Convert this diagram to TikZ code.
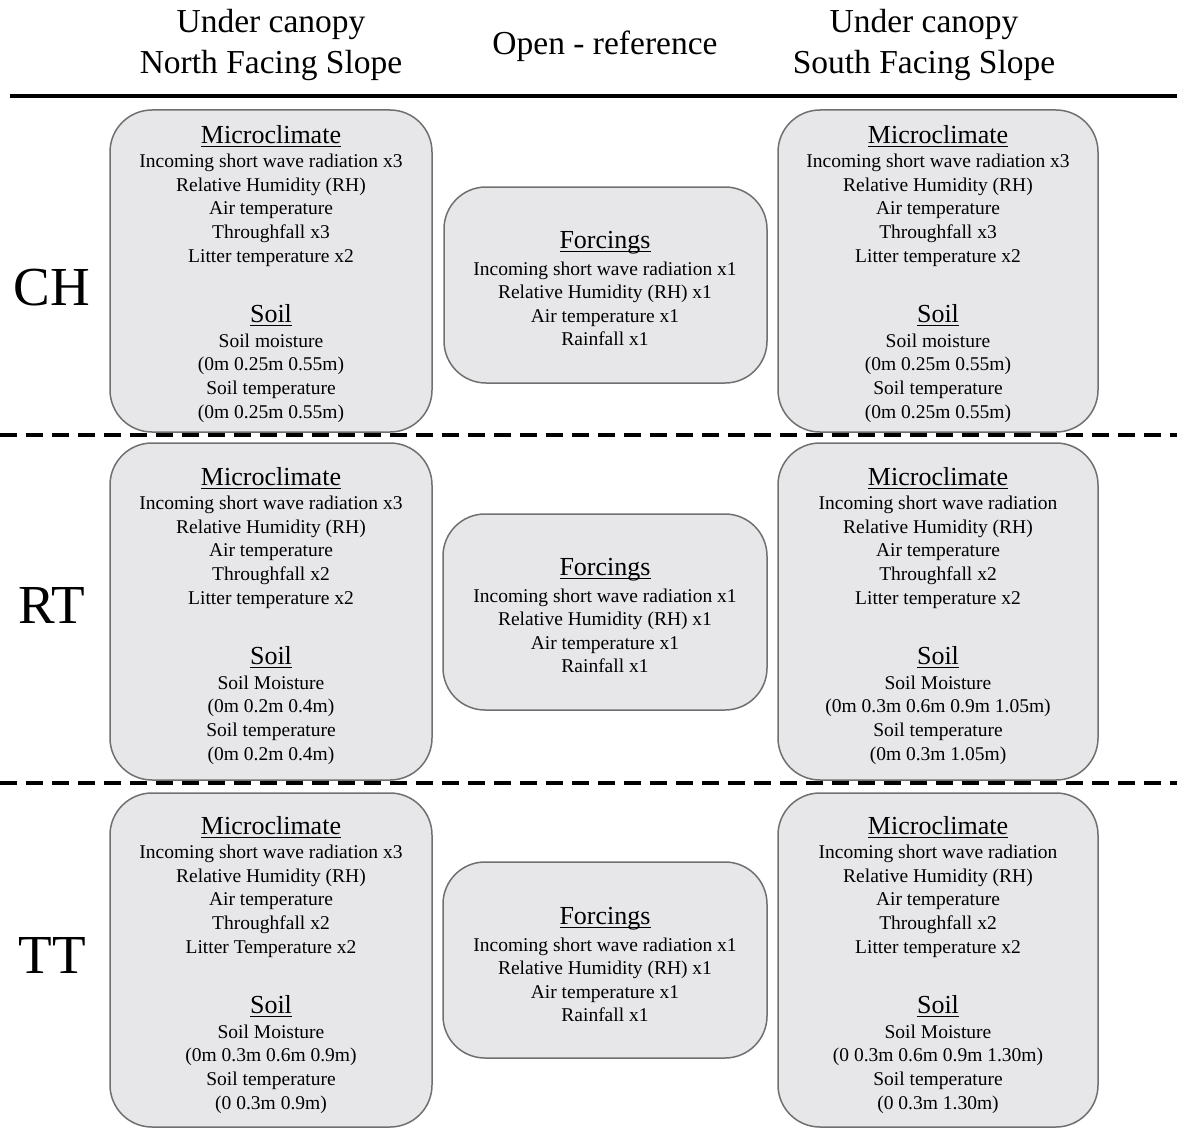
\documentclass[tikz,border=0pt]{standalone}
\usepackage{fontspec}
\setmainfont{Liberation Serif}

\definecolor{panelfill}{RGB}{231,230,232}
\definecolor{panelline}{RGB}{112,112,112}

% underlined sub-heading, rule kept close under the baseline
\newcommand{\ulhead}[1]{\setbox0\hbox{#1}\dp0=0pt\vtop{\copy0\kern3pt\hrule height 1.3pt}}

\tikzset{
  panel/.style={draw=panelline, fill=panelfill, line width=1.5pt, rounded corners=42pt},
  heading/.style={anchor=base, inner sep=0pt, font=\fontsize{26}{30}\selectfont},
  entry/.style={anchor=base, inner sep=0pt, font=\fontsize{19.5}{23.5}\selectfont},
  colhead/.style={anchor=base, inner sep=0pt, font=\fontsize{33.5}{40}\selectfont},
  rowhead/.style={anchor=base, inner sep=0pt, font=\fontsize{55}{60}\selectfont},
  rowrule/.style={line width=4pt, dash pattern=on 17pt off 9pt}
}

\begin{document}
\begin{tikzpicture}[x=1pt, y=-1pt]
\useasboundingbox (0,0) rectangle (1177,1129);

% Column headings and rules
\node[colhead] (nhead1) at (271,33) {Under canopy};
\node[colhead] (nhead2) at (271,74) {North Facing Slope};
\node[colhead] (ohead) at (605,55) {Open - reference};
\node[colhead] (shead1) at (924,33) {Under canopy};
\node[colhead] (shead2) at (924,74) {South Facing Slope};
\draw[line width=3.5pt] (10,96) -- (1177,96);
\draw[rowrule] (0,435) -- (1177,435);
\draw[rowrule] (0,783) -- (1177,783);

% Row labels
\node[rowhead] (ch) at (52,305) {CH};
\node[rowhead] (rt) at (52,623) {RT};
\node[rowhead] (tt) at (52,973) {TT};

% ---- CH ----
\draw[panel] (110,110) rectangle (432,432);
\node[heading] (chn-mc) at (271,143) {\ulhead{Microclimate}};
\foreach \txt [count=\i] in {Incoming short wave radiation x3, Relative Humidity (RH), Air temperature, Throughfall x3, Litter temperature x2}
  \node[entry] (chn-mc\i) at (271,143.8+23.7*\i) {\txt};
\node[heading] (chn-soil) at (271,322) {\ulhead{Soil}};
\foreach \txt [count=\i] in {Soil moisture, {(0m 0.25m 0.55m)}, Soil temperature, {(0m 0.25m 0.55m)}}
  \node[entry] (chn-soil\i) at (271,323.3+23.7*\i) {\txt};

\draw[panel] (444,187) rectangle (767,383);
\node[heading] (cho-fc) at (605,248) {\ulhead{Forcings}};
\foreach \txt [count=\i] in {Incoming short wave radiation x1, Relative Humidity (RH) x1, Air temperature x1, Rainfall x1}
  \node[entry] (cho-fc\i) at (605,251.5+23.5*\i) {\txt};

\draw[panel] (778,110) rectangle (1098,432);
\node[heading] (chs-mc) at (938,143) {\ulhead{Microclimate}};
\foreach \txt [count=\i] in {Incoming short wave radiation x3, Relative Humidity (RH), Air temperature, Throughfall x3, Litter temperature x2}
  \node[entry] (chs-mc\i) at (938,143.8+23.7*\i) {\txt};
\node[heading] (chs-soil) at (938,322) {\ulhead{Soil}};
\foreach \txt [count=\i] in {Soil moisture, {(0m 0.25m 0.55m)}, Soil temperature, {(0m 0.25m 0.55m)}}
  \node[entry] (chs-soil\i) at (938,323.3+23.7*\i) {\txt};

% ---- RT ----
\draw[panel] (110,443) rectangle (432,780);
\node[heading] (rtn-mc) at (271,485) {\ulhead{Microclimate}};
\foreach \txt [count=\i] in {Incoming short wave radiation x3, Relative Humidity (RH), Air temperature, Throughfall x2, Litter temperature x2}
  \node[entry] (rtn-mc\i) at (271,485.8+23.7*\i) {\txt};
\node[heading] (rtn-soil) at (271,664) {\ulhead{Soil}};
\foreach \txt [count=\i] in {Soil Moisture, {(0m 0.2m 0.4m)}, Soil temperature, {(0m 0.2m 0.4m)}}
  \node[entry] (rtn-soil\i) at (271,665.3+23.7*\i) {\txt};

\draw[panel] (443,514) rectangle (767,710);
\node[heading] (rto-fc) at (605,575) {\ulhead{Forcings}};
\foreach \txt [count=\i] in {Incoming short wave radiation x1, Relative Humidity (RH) x1, Air temperature x1, Rainfall x1}
  \node[entry] (rto-fc\i) at (605,578.5+23.5*\i) {\txt};

\draw[panel] (778,443) rectangle (1098,780);
\node[heading] (rts-mc) at (938,485) {\ulhead{Microclimate}};
\foreach \txt [count=\i] in {Incoming short wave radiation, Relative Humidity (RH), Air temperature, Throughfall x2, Litter temperature x2}
  \node[entry] (rts-mc\i) at (938,485.8+23.7*\i) {\txt};
\node[heading] (rts-soil) at (938,664) {\ulhead{Soil}};
\foreach \txt [count=\i] in {Soil Moisture, {(0m 0.3m 0.6m 0.9m 1.05m)}, Soil temperature, {(0m 0.3m 1.05m)}}
  \node[entry] (rts-soil\i) at (938,665.3+23.7*\i) {\txt};

% ---- TT ----
\draw[panel] (110,793) rectangle (432,1127);
\node[heading] (ttn-mc) at (271,834) {\ulhead{Microclimate}};
\foreach \txt [count=\i] in {Incoming short wave radiation x3, Relative Humidity (RH), Air temperature, Throughfall x2, Litter Temperature x2}
  \node[entry] (ttn-mc\i) at (271,834.8+23.7*\i) {\txt};
\node[heading] (ttn-soil) at (271,1013) {\ulhead{Soil}};
\foreach \txt [count=\i] in {Soil Moisture, {(0m 0.3m 0.6m 0.9m)}, Soil temperature, {(0 0.3m 0.9m)}}
  \node[entry] (ttn-soil\i) at (271,1014.3+23.7*\i) {\txt};

\draw[panel] (443,862) rectangle (767,1058);
\node[heading] (tto-fc) at (605,924) {\ulhead{Forcings}};
\foreach \txt [count=\i] in {Incoming short wave radiation x1, Relative Humidity (RH) x1, Air temperature x1, Rainfall x1}
  \node[entry] (tto-fc\i) at (605,927.5+23.5*\i) {\txt};

\draw[panel] (778,793) rectangle (1098,1127);
\node[heading] (tts-mc) at (938,834) {\ulhead{Microclimate}};
\foreach \txt [count=\i] in {Incoming short wave radiation, Relative Humidity (RH), Air temperature, Throughfall x2, Litter temperature x2}
  \node[entry] (tts-mc\i) at (938,834.8+23.7*\i) {\txt};
\node[heading] (tts-soil) at (938,1013) {\ulhead{Soil}};
\foreach \txt [count=\i] in {Soil Moisture, {(0 0.3m 0.6m 0.9m 1.30m)}, Soil temperature, {(0 0.3m 1.30m)}}
  \node[entry] (tts-soil\i) at (938,1014.3+23.7*\i) {\txt};
\end{tikzpicture}
\end{document}
